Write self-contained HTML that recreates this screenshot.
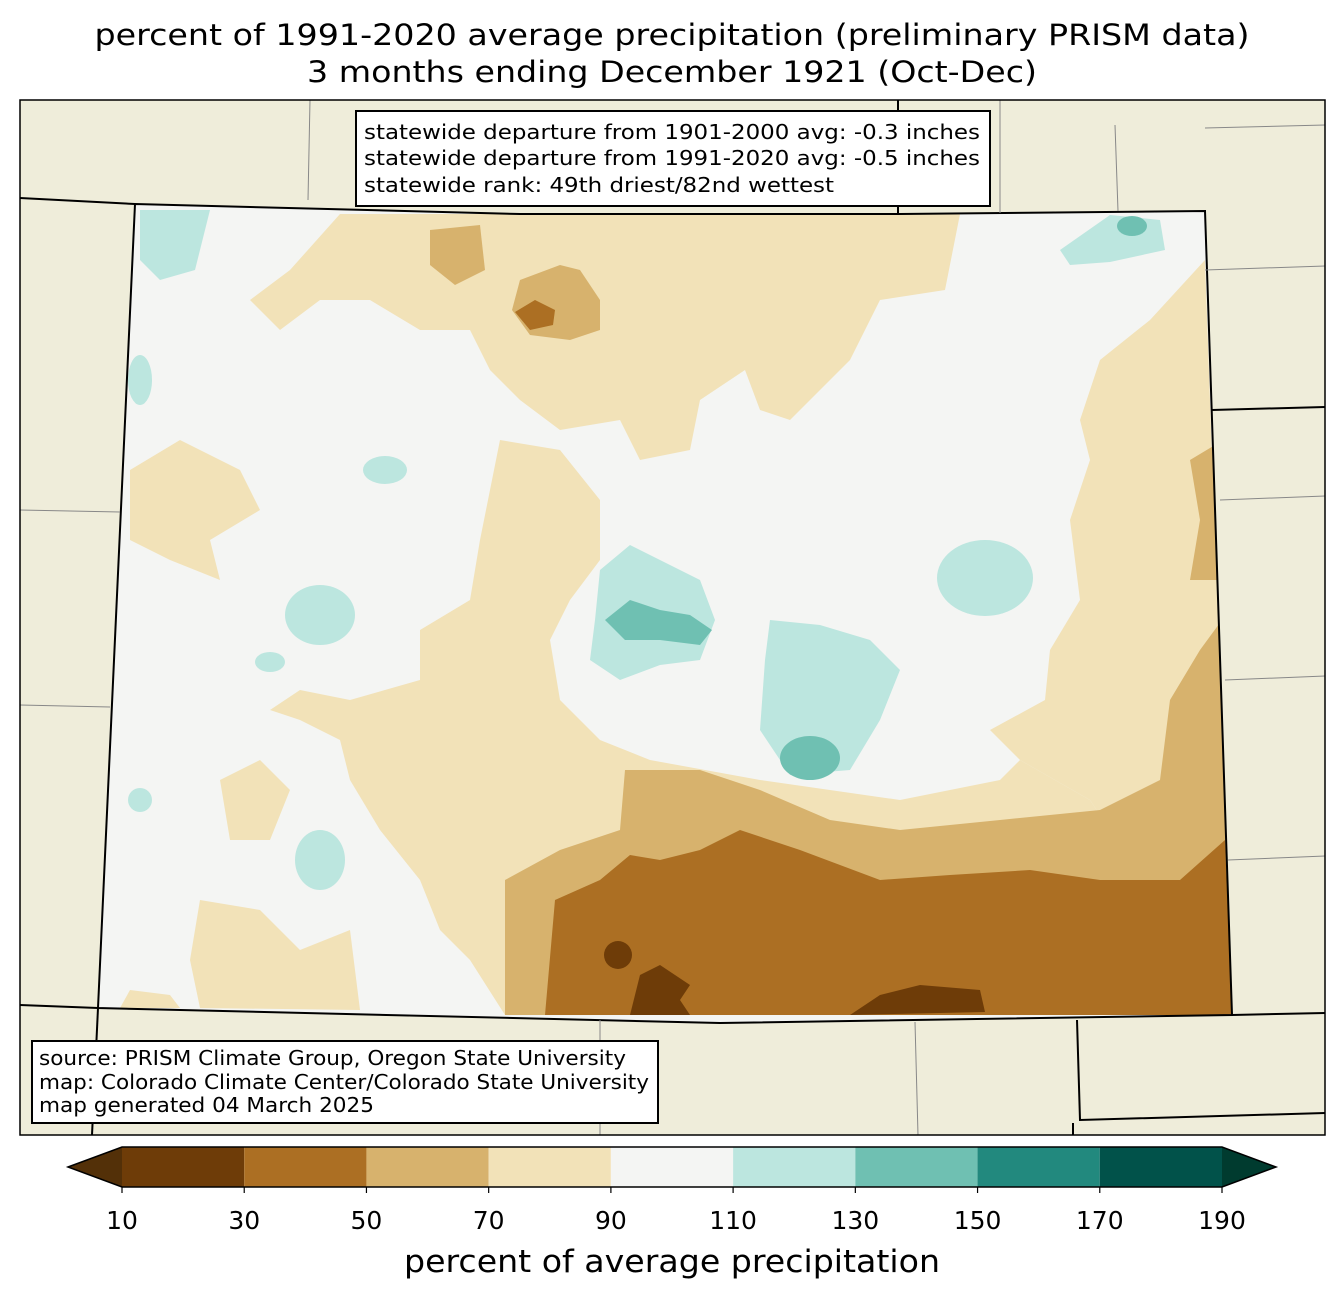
<!DOCTYPE html>
<html><head><meta charset="utf-8">
<style>
html,body{margin:0;padding:0;background:#fff;}
body{width:1344px;height:1299px;overflow:hidden;font-family:"Liberation Sans","DejaVu Sans",sans-serif;}
svg text{font-family:"DejaVu Sans","Liberation Sans",sans-serif;}
</style></head><body>
<svg id="chart" width="1344" height="1299" viewBox="0 0 1344 1299" xmlns="http://www.w3.org/2000/svg">
<text x="672" y="45" text-anchor="middle" font-size="29" textLength="1155" lengthAdjust="spacingAndGlyphs">percent of 1991-2020 average precipitation (preliminary PRISM data)</text>
<text x="672" y="82" text-anchor="middle" font-size="29" textLength="730" lengthAdjust="spacingAndGlyphs">3 months ending December 1921 (Oct-Dec)</text>
<clipPath id="frameclip"><rect x="20" y="100" width="1305" height="1035"/></clipPath>
<g clip-path="url(#frameclip)">
<rect x="20" y="100" width="1305" height="1035" fill="#efedda"/>
<clipPath id="coclip"><polygon points="135,204 520,214 900,214 1205,211 1232,1015 720,1023 98,1008"/></clipPath>
<polygon points="135,204 520,214 900,214 1205,211 1232,1015 720,1023 98,1008" fill="#f4f5f3"/>
<g clip-path="url(#coclip)">
<g fill="#f2e2b8">
<path d="M340,214 L960,214 L945,290 L880,300 L850,360 L790,420 L760,410 L745,370 L700,400 L690,450 L640,460 L620,420 L560,430 L520,400 L490,370 L470,330 L420,330 L370,300 L320,300 L280,330 L250,300 L290,270 Z"/>
<path d="M1205,260 L1232,1015 L1090,800 L1020,760 L990,730 L1045,700 L1050,650 L1080,600 L1070,520 L1090,460 L1080,420 L1100,360 L1150,320 Z"/>
<path d="M500,440 L560,450 L600,500 L600,560 L570,600 L550,640 L560,700 L600,740 L650,760 L760,780 L900,800 L1000,780 L1020,760 L1090,800 L1232,1015 L505,1015 L470,960 L440,930 L420,880 L380,830 L350,780 L340,740 L300,720 L270,710 L300,690 L350,700 L420,680 L420,630 L470,600 L480,540 Z"/>
<path d="M130,470 L180,440 L240,470 L260,510 L210,540 L220,580 L170,560 L130,540 Z"/>
<path d="M200,900 L260,910 L300,950 L350,930 L360,1010 L200,1008 L190,960 Z"/>
<path d="M220,780 L260,760 L290,790 L270,840 L230,840 Z"/>
<path d="M120,1008 L130,990 L170,995 L180,1008 Z"/>
</g>
<g fill="#d7b26d">
<path d="M505,880 L560,850 L620,830 L625,770 L700,770 L760,790 L830,820 L900,830 L1000,820 L1100,810 L1160,780 L1170,700 L1200,650 L1222,620 L1232,1015 L505,1015 Z"/>
<path d="M430,230 L480,225 L485,270 L455,285 L430,265 Z"/>
<path d="M520,280 L560,265 L580,270 L600,300 L600,330 L570,340 L530,335 L512,310 Z"/>
<path d="M1190,460 L1215,445 L1220,580 L1190,580 L1200,520 Z"/>
<path d="M680,860 L720,840 L760,850 L740,900 L700,900 Z"/>
</g>
<g fill="#ac6f23">
<path d="M545,1015 L555,900 L600,880 L630,855 L660,860 L700,850 L740,830 L800,850 L880,880 L950,875 L1030,870 L1100,880 L1180,880 L1225,840 L1232,1015 Z"/>
<path d="M515,312 L535,300 L555,310 L553,325 L530,330 Z"/>
</g>
<g fill="#6e3c08">
<ellipse cx="618" cy="955" rx="14" ry="14"/>
<path d="M630,1015 L640,975 L660,965 L690,985 L680,1000 L690,1015 Z"/>
<path d="M850,1015 L880,995 L920,985 L980,990 L985,1012 Z"/>
</g>
<g fill="#bce6df">
<path d="M140,210 L210,210 L195,270 L160,280 L140,260 Z"/>
<path d="M1060,250 L1110,215 L1160,220 L1165,250 L1110,262 L1070,265 Z"/>
<path d="M770,620 L820,625 L870,640 L900,670 L880,720 L850,770 L790,775 L760,730 L765,660 Z"/>
<ellipse cx="985" cy="578" rx="48" ry="38"/>
<path d="M600,570 L630,545 L660,560 L700,580 L715,620 L700,660 L660,665 L620,680 L590,660 L595,620 Z"/>
<ellipse cx="320" cy="615" rx="35" ry="30"/>
<ellipse cx="385" cy="470" rx="22" ry="14"/>
<ellipse cx="140" cy="380" rx="12" ry="25"/>
<ellipse cx="320" cy="860" rx="25" ry="30"/>
<ellipse cx="140" cy="800" rx="12" ry="12"/>
<ellipse cx="270" cy="662" rx="15" ry="10"/>
</g>
<g fill="#6fc0b2">
<ellipse cx="810" cy="758" rx="30" ry="22"/>
<path d="M605,620 L630,600 L660,610 L690,615 L712,630 L700,645 L660,640 L625,640 Z"/>
<ellipse cx="1132" cy="226" rx="15" ry="10"/>
</g>
</g>
<g fill="none" stroke="#000" stroke-width="2">
<polygon points="135,204 520,214 900,214 1205,211 1232,1015 720,1023 98,1008"/>
<polyline points="20,198 135,204"/>
<polyline points="20,1005 98,1008"/>
<polyline points="98,1008 92,1135"/>
<polyline points="1212,410 1325,407"/>
<polyline points="1232,1015 1325,1013"/>
<polyline points="1077,1020 1080,1120 1325,1113"/>
<polyline points="1073,1123 1073,1135"/>
<polyline points="898,214 898,100"/>
</g>
<g fill="none" stroke="#888" stroke-width="1">
<polyline points="310,100 308,200"/><polyline points="1000,100 1000,213"/><polyline points="1115,125 1118,211"/>
<polyline points="1205,128 1325,125"/><polyline points="1205,270 1325,266"/><polyline points="1220,500 1325,496"/>
<polyline points="1225,680 1325,676"/><polyline points="1228,860 1325,856"/><polyline points="20,510 120,512"/>
<polyline points="20,705 110,707"/><polyline points="600,1020 600,1135"/><polyline points="915,1022 918,1135"/>
</g>
</g>
<rect x="20" y="100" width="1305" height="1035" fill="none" stroke="#000" stroke-width="1.5"/>
<g>
<rect x="356" y="111" width="634" height="95" fill="#fff" stroke="#000" stroke-width="2"/>
<text x="364" y="139" font-size="20" textLength="616" lengthAdjust="spacingAndGlyphs">statewide departure from 1901-2000 avg: -0.3 inches</text>
<text x="364" y="165" font-size="20" textLength="616" lengthAdjust="spacingAndGlyphs">statewide departure from 1991-2020 avg: -0.5 inches</text>
<text x="364" y="192" font-size="20" textLength="470" lengthAdjust="spacingAndGlyphs">statewide rank: 49th driest/82nd wettest</text>
</g>
<g>
<rect x="32" y="1041" width="626" height="82" fill="#fff" stroke="#000" stroke-width="2"/>
<text x="39" y="1065" font-size="20" textLength="587" lengthAdjust="spacingAndGlyphs">source: PRISM Climate Group, Oregon State University</text>
<text x="39" y="1089" font-size="20" textLength="610" lengthAdjust="spacingAndGlyphs">map: Colorado Climate Center/Colorado State University</text>
<text x="39" y="1112" font-size="20" textLength="335" lengthAdjust="spacingAndGlyphs">map generated 04 March 2025</text>
</g>
<g id="cbar"></g>
<text x="672" y="1272" text-anchor="middle" font-size="31" textLength="536" lengthAdjust="spacingAndGlyphs">percent of average precipitation</text>
</svg>
<script>
const levels=[10,30,50,70,90,110,130,150,170,190];
const binColors=["#6e3c08","#ac6f23","#d7b26d","#f2e2b8","#f4f5f3","#bce6df","#6fc0b2","#22897e","#01524a"];
const extColors=["#533008","#003b2f"];
const NS="http://www.w3.org/2000/svg";
const g=document.getElementById('cbar');
const x0=122,x1=1222,y0=1147,y1=1187;
const xs=v=>x0+(v-levels[0])/(levels[levels.length-1]-levels[0])*(x1-x0);
function mk(t,a){const e=document.createElementNS(NS,t);for(const k in a)e.setAttribute(k,a[k]);g.appendChild(e);return e;}
const lt=mk('polygon',{points:`${x0},${y0} ${x0},${y1} 68,${(y0+y1)/2}`,fill:extColors[0]});


const rt=mk('polygon',{points:`${x1},${y0} ${x1},${y1} 1276,${(y0+y1)/2}`,fill:extColors[1]});


binColors.forEach((c,i)=>{
  const r=mk('rect',{x:xs(levels[i]),y:y0,width:xs(levels[i+1])-xs(levels[i]),height:y1-y0,fill:c});
  
  
});
const ol=mk('polygon',{points:`68,${(y0+y1)/2} ${x0},${y0} ${x1},${y0} 1276,${(y0+y1)/2} ${x1},${y1} ${x0},${y1}`,fill:'none',stroke:'#000','stroke-width':1.5});


levels.forEach(v=>{
  const tk=mk('line',{x1:xs(v),x2:xs(v),y1:y1,y2:y1+6,stroke:'#000','stroke-width':1.2});
  
  
  const t=mk('text',{x:xs(v),y:1229,'text-anchor':'middle','font-size':25});
  t.textContent=v;
  
  
});
</script>
</body></html>
